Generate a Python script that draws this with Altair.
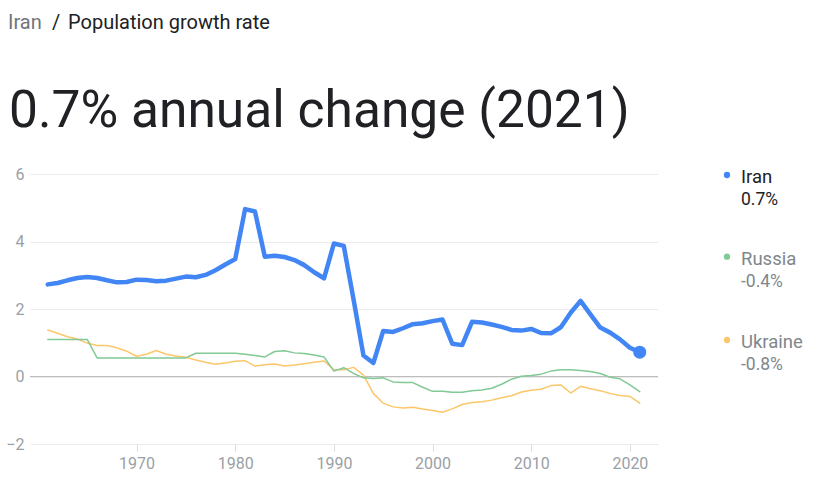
import altair as alt
import pandas as pd

# ---------------- data ----------------
years = list(range(1961, 2022))

iran = [2.73, 2.77, 2.85, 2.92, 2.95, 2.92, 2.85, 2.79, 2.80, 2.87,
        2.86, 2.82, 2.84, 2.90, 2.96, 2.94, 3.01, 3.15, 3.32, 3.48,
        4.96, 4.89, 3.55, 3.58, 3.54, 3.45, 3.30, 3.09, 2.91, 3.94,
        3.87, 2.27, 0.62, 0.40, 1.35, 1.32, 1.43, 1.55, 1.58, 1.64,
        1.69, 0.97, 0.93, 1.62, 1.60, 1.54, 1.47, 1.38, 1.36, 1.41,
        1.29, 1.28, 1.46, 1.89, 2.24, 1.84, 1.45, 1.30, 1.10, 0.85,
        0.72]

russia = [1.10, 1.10, 1.10, 1.10, 1.10, 0.55, 0.55, 0.55, 0.55, 0.55,
          0.55, 0.55, 0.55, 0.55, 0.55, 0.69, 0.69, 0.69, 0.69, 0.69,
          0.66, 0.62, 0.58, 0.74, 0.76, 0.70, 0.68, 0.64, 0.58, 0.16,
          0.26, 0.09, -0.04, -0.06, -0.04, -0.16, -0.18, -0.18, -0.32, -0.44,
          -0.44, -0.47, -0.47, -0.42, -0.40, -0.35, -0.23, -0.08, 0.01, 0.03,
          0.07, 0.16, 0.20, 0.20, 0.18, 0.15, 0.09, -0.02, -0.07, -0.25,
          -0.45]

ukraine = [1.38, 1.28, 1.18, 1.11, 0.99, 0.92, 0.92, 0.85, 0.75, 0.60,
           0.66, 0.77, 0.66, 0.61, 0.57, 0.49, 0.42, 0.36, 0.40, 0.45,
           0.47, 0.31, 0.35, 0.37, 0.31, 0.34, 0.38, 0.42, 0.46, 0.20,
           0.20, 0.27, 0.04, -0.50, -0.79, -0.90, -0.93, -0.91, -0.96, -1.01,
           -1.06, -0.96, -0.83, -0.77, -0.75, -0.70, -0.63, -0.57, -0.46, -0.41,
           -0.38, -0.27, -0.25, -0.49, -0.29, -0.36, -0.42, -0.50, -0.56, -0.59,
           -0.79]

countries = ["Iran", "Russia", "Ukraine"]
legend_values = ["0.7%", "-0.4%", "-0.8%"]
line_colors = ["#4285f4", "#81c995", "#fbc76a"]

x_ticks = [1970, 1980, 1990, 2000, 2010, 2020]
y_ticks = [-2, 0, 2, 4, 6]

crumb_country = "Iran"
crumb_sep = "/"
crumb_topic = "Population growth rate"
headline = "0.7% annual change (2021)"

# ---------------- tables ----------------
rows = []
for name, series in zip(countries, [iran, russia, ukraine]):
    for y, v in zip(years, series):
        rows.append({"year": y, "value": v, "country": name})
df = pd.DataFrame(rows)
last_iran = df[(df.country == "Iran") & (df.year == years[-1])]

FONT = "Roboto"

xscale = alt.Scale(domain=[1959.2, 2022.85], nice=False, zero=False)
yscale = alt.Scale(domain=[-2, 6], nice=False, zero=False)

xaxis = alt.Axis(values=x_ticks, format="d", title=None, grid=False,
                 domain=False, tickColor="#dadce0", tickSize=7,
                 labelFont=FONT, labelFontSize=16, labelColor="#9aa0a6",
                 labelPadding=4)
yaxis = alt.Axis(values=y_ticks, title=None, grid=True, gridColor="#ebebeb",
                 ticks=False, domain=False, labelFont=FONT,
                 labelFontSize=16, labelColor="#9aa0a6", labelPadding=6)

X = alt.X("year:Q", scale=xscale, axis=xaxis)
Y = alt.Y("value:Q", scale=yscale, axis=yaxis)

base = alt.Chart(df)

def series_line(name, color, width):
    return base.transform_filter(alt.datum.country == name).mark_line(
        color=color, strokeWidth=width, strokeJoin="round", strokeCap="round"
    ).encode(x=X, y=Y)

zero_rule = alt.Chart(pd.DataFrame({"value": [0]})).mark_rule(
    color="#bdbdbd", strokeWidth=1.2
).encode(y=Y)

ukr = series_line("Ukraine", line_colors[2], 1.5)
rus = series_line("Russia", line_colors[1], 1.5)
irn = series_line("Iran", line_colors[0], 4.5)

end_dot = alt.Chart(last_iran).mark_circle(color=line_colors[0], opacity=1, size=170).encode(
    x=X, y=Y
)

# legend (custom), one entry per country
legend_layers = []
entry_y = [1, 82.7, 166]
for name, val, col, ey in zip(countries, legend_values, line_colors, entry_y):
    tcol = "#202124" if name == "Iran" else "#80868b"
    d = pd.DataFrame({"country": [name], "label": [val]})
    legend_layers.append(
        alt.Chart(d).mark_circle(size=40, opacity=1, color=col).encode(
            x=alt.value(697), y=alt.value(ey))
    )
    legend_layers.append(
        alt.Chart(d).mark_text(align="left", baseline="middle", font=FONT,
                               fontSize=18.5, color=tcol, dy=2).encode(
            x=alt.value(711), y=alt.value(ey), text="country:N")
    )
    legend_layers.append(
        alt.Chart(d).mark_text(align="left", baseline="middle", font=FONT,
                               fontSize=17.5, color=tcol, dy=25).encode(
            x=alt.value(711), y=alt.value(ey), text="label:N")
    )

# header texts
def header(text, x, y, size, color):
    return alt.Chart(pd.DataFrame({"t": [text]})).mark_text(
        align="left", baseline="alphabetic", font=FONT, fontSize=size, color=color
    ).encode(x=alt.value(x), y=alt.value(y), text="t:N")

h1 = header(crumb_country, -22, -145, 20, "#70757a")
h2 = header(crumb_sep, 22, -145, 20, "#202124")
h3 = header(crumb_topic, 38, -145, 20, "#202124")
h4 = header(headline, -21, -47, 51.5, "#202124")

chart = alt.layer(
    zero_rule, ukr, rus, irn, end_dot, *legend_layers, h1, h2, h3, h4
).properties(
    width=628, height=270,
    autosize=alt.AutoSizeParams(type="none"),
    padding={"left": 30, "top": 174, "right": 170, "bottom": 52},
    background="white",
).configure_view(stroke=None)

chart.save("out.html", embed_options={"renderer": "svg", "actions": False})
